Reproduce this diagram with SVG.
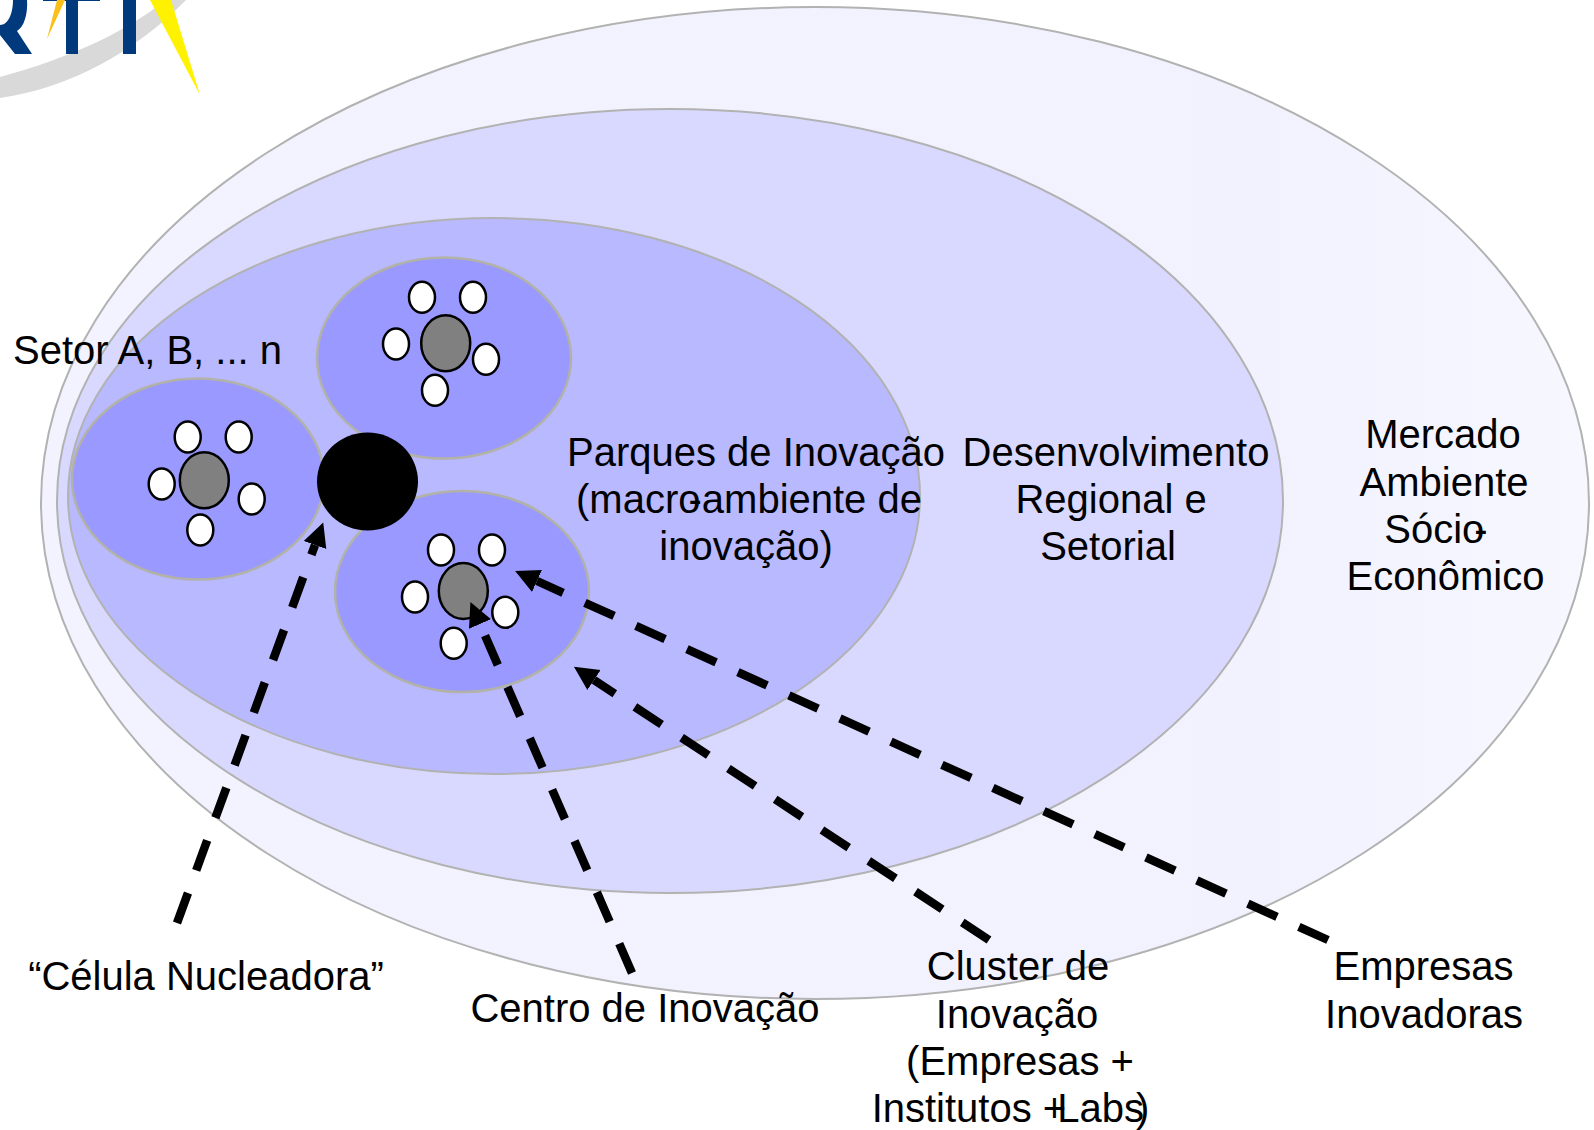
<svg xmlns="http://www.w3.org/2000/svg" width="1594" height="1130" viewBox="0 0 1594 1130">
<style>
text{font-family:"Liberation Sans",Arial,sans-serif;font-size:40px;fill:#000;text-anchor:middle}
.r{stroke:#b2b2b2;stroke-width:2}
.s{fill:#9999ff;stroke:#b2b2a8;stroke-width:2.500}
.w{fill:#fff;stroke:#000;stroke-width:2.500;rx:13px;ry:15.500px}
.g{fill:#808080;stroke:#000;stroke-width:2.500;rx:24.500px;ry:28px}
.d{fill:none;stroke:#000;stroke-width:8.500;stroke-dasharray:32 24}
.blue{fill:#003a7d}
</style>
<defs>
<marker id="h" markerUnits="userSpaceOnUse" markerWidth="30" markerHeight="30" refX="0" refY="15" orient="auto"><path d="M0,3L24,15L0,27Z" fill="#000"/></marker>
<linearGradient id="mg" x1="0" x2="1" y1="0" y2="0"><stop offset="0" stop-color="#f3f3ff"/><stop offset="0.8" stop-color="#f2f2ff"/><stop offset="1" stop-color="#f7f7ff"/></linearGradient>
</defs>
<g id="logo">
<path d="M0,98C70,88 135,52 186,0L165,0C130,30 70,58 0,77Z" fill="#d9d9d9"/>
<path class="blue" d="M13,0L27,0C28,14 24,27 17,31L32,54L15,54L0,35L0,25C8,25 13,14 13,0Z"/>
<rect class="blue" x="66" y="0" width="12" height="54"/>
<rect class="blue" x="43" y="0" width="57" height="1"/>
<rect class="blue" x="123" y="0" width="13" height="54"/>
<path d="M57,0L65,0L47,39Z" fill="#fbbf1a"/>
<path d="M150,0L171,0L200,95Z" fill="#fff200"/>
</g>
<g id="regions">
<ellipse id="mercado" class="r" cx="815" cy="503" rx="774" ry="496" fill="url(#mg)"/>
<ellipse id="regional" class="r" cx="670" cy="501" rx="613" ry="392" fill="#d9d9ff"/>
<ellipse id="parques" class="r" cx="494" cy="496" rx="426" ry="278" fill="#b9b9ff"/>
</g>
<g id="setor-top">
<ellipse class="s" cx="444" cy="358" rx="127" ry="100.500"/>
<ellipse class="g" cx="445.700" cy="343.300"/>
<ellipse class="w" cx="422" cy="297.300"/><ellipse class="w" cx="473" cy="297.300"/><ellipse class="w" cx="396" cy="344"/><ellipse class="w" cx="486" cy="359.300"/><ellipse class="w" cx="435" cy="390.300"/>
</g>
<g id="setor-left">
<ellipse class="s" cx="198" cy="479" rx="126" ry="100.500"/>
<ellipse class="g" cx="204.300" cy="480.300"/>
<ellipse class="w" cx="187.700" cy="437"/><ellipse class="w" cx="238.700" cy="437"/><ellipse class="w" cx="161.700" cy="484"/><ellipse class="w" cx="251.700" cy="499"/><ellipse class="w" cx="200.300" cy="530"/>
</g>
<g id="setor-bottom">
<ellipse class="s" cx="462" cy="591.500" rx="127" ry="100.500"/>
<ellipse class="g" cx="463.300" cy="591"/>
<ellipse class="w" cx="441" cy="550"/><ellipse class="w" cx="492" cy="550"/><ellipse class="w" cx="415" cy="597"/><ellipse class="w" cx="505.300" cy="612.300"/><ellipse class="w" cx="453.700" cy="643.300"/>
</g>
<g id="nucleadora"><ellipse cx="367.500" cy="481.500" rx="50.500" ry="49" fill="#000"/></g>
<g id="connectors">
<path class="d" marker-end="url(#h)" d="M177,923L315,545"/>
<path class="d" marker-end="url(#h)" d="M632,973L480,624"/>
<path class="d" marker-end="url(#h)" d="M989,940L594,680"/>
<path class="d" marker-end="url(#h)" d="M1328,940L537,581"/>
</g>
<g id="labels">
<text x="147.500" y="364">Setor A, B, ... n</text>
<text x="756" y="466">Parques de Inovação</text>
<text x="749" y="513">(macro<tspan dx="-12">-</tspan>ambiente de</text>
<text x="746" y="560">inovação)</text>
<text x="1116" y="466">Desenvolvimento</text>
<text x="1111" y="513">Regional e</text>
<text x="1108" y="560">Setorial</text>
<text x="1443" y="448">Mercado</text>
<text x="1444" y="496">Ambiente</text>
<text x="1436" y="543">Sócio<tspan dx="-10">-</tspan></text>
<text x="1445.500" y="590">Econômico</text>
<text x="206" y="990">“Célula Nucleadora”</text>
<text x="645" y="1022">Centro de Inovação</text>
<text x="1018" y="980">Cluster de</text>
<text x="1017" y="1028">Inovação</text>
<text x="1020" y="1075">(Empresas +</text>
<text x="1010.500" y="1122">Institutos + <tspan dx="-20">Labs</tspan><tspan dx="-8">)</tspan></text>
<text x="1423.500" y="980">Empresas</text>
<text x="1424" y="1028">Inovadoras</text>
</g>
</svg>
